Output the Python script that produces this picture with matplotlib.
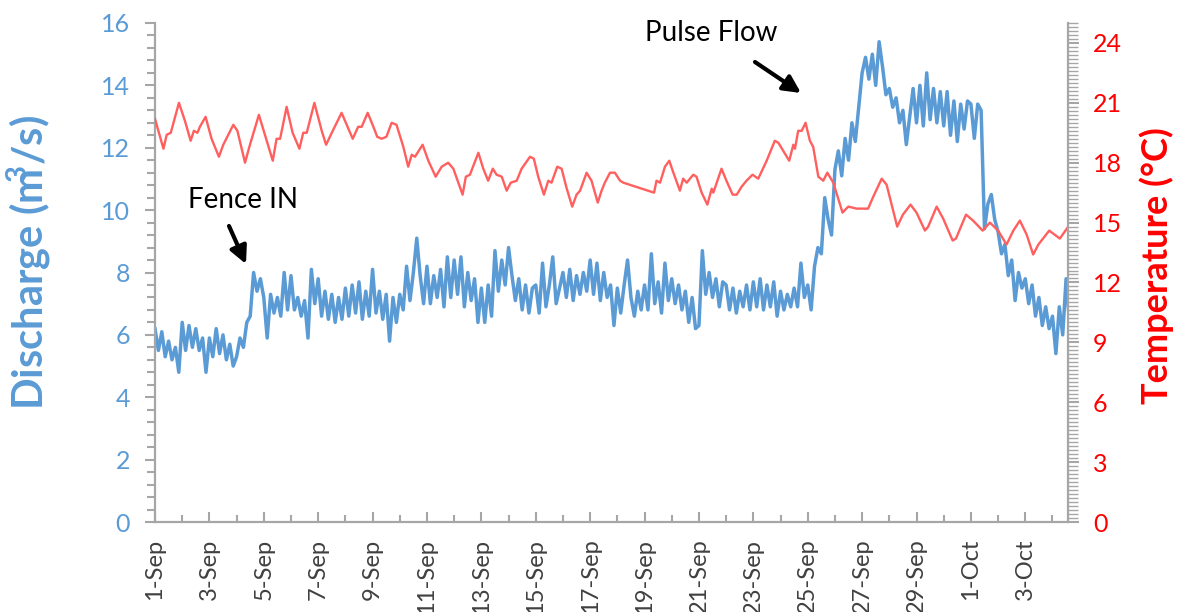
import numpy as np
import pandas as pd
import matplotlib
matplotlib.use("Agg")
import matplotlib.pyplot as plt
from matplotlib.ticker import MultipleLocator
import matplotlib.dates as mdates

plt.rcParams['font.family'] = ['Lato', 'DejaVu Sans']
plt.rcParams['mathtext.fontset'] = 'custom'
plt.rcParams['mathtext.rm'] = 'Lato'
plt.rcParams['mathtext.bf'] = 'Lato:bold'

# ---------------- data ----------------
start = pd.Timestamp("2018-09-01")

# Discharge (m3/s), one row per day, 3-hourly readings from 1-Sep 00:00
discharge = [
    6.2, 5.5, 6.1, 5.3, 5.8, 5.2, 5.6, 4.8,
    6.4, 5.5, 6.3, 5.6, 6.2, 5.5, 5.9, 4.8,
    5.9, 5.3, 6.2, 5.4, 6.0, 5.2, 5.7, 5.0,
    5.3, 5.9, 5.6, 6.4, 6.6, 8.0, 7.4, 7.8,
    7.2, 5.9, 7.3, 6.7, 7.2, 6.6, 8.0, 6.8,
    7.9, 6.8, 7.2, 6.6, 7.1, 5.9, 8.1, 7.0,
    7.8, 6.6, 7.4, 6.5, 7.3, 6.4, 7.2, 6.5,
    7.5, 6.6, 7.6, 6.7, 7.7, 6.5, 7.4, 6.6,
    8.1, 6.7, 7.4, 6.5, 7.3, 5.8, 7.2, 6.4,
    7.3, 6.8, 8.2, 7.1, 8.0, 9.1, 7.9, 7.0,
    8.2, 7.0, 7.9, 7.2, 8.1, 6.9, 8.5, 7.2,
    8.4, 7.3, 8.5, 6.9, 8.0, 7.1, 7.8, 6.4,
    7.5, 6.4, 7.6, 6.6, 8.7, 7.4, 8.4, 7.6,
    8.8, 7.9, 7.1, 7.8, 6.8, 7.6, 6.7, 7.5,
    7.6, 6.7, 8.3, 6.9, 7.6, 8.5, 7.0, 7.5,
    8.0, 7.2, 8.1, 7.1, 7.9, 7.3, 8.0, 7.4,
    8.4, 7.3, 8.3, 7.1, 8.0, 7.2, 7.6, 6.3,
    7.5, 6.7, 7.6, 8.4, 7.2, 6.6, 7.4, 6.8,
    7.6, 6.8, 8.6, 7.0, 7.7, 6.7, 8.3, 7.1,
    7.8, 7.0, 7.6, 6.8, 7.4, 6.4, 7.2, 6.2,
    6.3, 8.7, 7.3, 8.0, 7.2, 7.8, 6.9, 7.7,
    7.6, 6.8, 7.5, 6.7, 7.4, 6.9, 7.6, 6.8,
    7.7, 6.9, 7.8, 6.8, 7.6, 6.9, 7.7, 6.6,
    7.4, 6.8, 7.3, 6.9, 7.5, 6.9, 8.3, 7.2,
    7.6, 6.8, 8.2, 8.8, 8.6, 10.4, 9.7, 9.2,
    11.3, 11.9, 11.1, 12.3, 11.6, 12.8, 12.2, 13.3,
    14.4, 14.9, 14.2, 15.0, 14.0, 15.4, 14.6, 13.7,
    13.9, 13.3, 13.6, 12.8, 13.2, 12.1, 13.0, 13.9,
    12.8, 14.0, 12.7, 14.4, 12.9, 13.9, 12.8, 13.8,
    12.7, 13.8, 12.4, 13.5, 12.2, 13.4, 12.6, 13.5,
    13.4, 12.3, 13.4, 13.2, 9.4, 10.2, 10.5, 9.7,
    9.3, 8.6, 8.9, 7.9, 8.4, 7.1, 8.0, 7.5,
    7.8, 7.0, 7.6, 6.6, 7.2, 6.3, 6.9, 6.2,
    6.6, 5.4, 6.9, 6.0, 7.8, 6.4,
]

# Temperature (deg C): days since 1-Sep 00:00 and value
temp_days = [
    0.00, 0.31, 0.43, 0.58, 0.88, 1.10, 1.31, 1.43, 1.56, 1.65, 1.86, 2.08, 2.35, 2.51,
    2.88, 3.03, 3.31, 3.47, 3.82, 4.04, 4.33, 4.47, 4.60, 4.84, 5.06, 5.31, 5.45, 5.58,
    5.86, 6.13, 6.29, 6.50, 6.86, 7.05, 7.27, 7.47, 7.60, 7.82, 8.03, 8.17, 8.33, 8.51,
    8.70, 8.88, 9.13, 9.31, 9.44, 9.56, 9.84, 10.05, 10.32, 10.54, 10.78, 10.97, 11.31,
    11.43, 11.58, 11.89, 12.07, 12.25, 12.42, 12.56, 12.75, 12.93, 13.08, 13.30, 13.48,
    13.79, 13.93, 14.09, 14.30, 14.46, 14.58, 14.79, 14.95, 15.14, 15.34, 15.50, 15.63,
    15.87, 16.05, 16.28, 16.42, 16.54, 16.73, 16.91, 17.10, 17.22, 18.35, 18.44, 18.57,
    18.75, 18.91, 19.06, 19.30, 19.42, 19.55, 19.79, 19.91, 20.10, 20.31, 20.47, 20.53,
    20.83, 21.01, 21.24, 21.39, 21.57, 21.75, 21.97, 22.18, 22.49, 22.79, 22.92, 23.32,
    23.47, 23.53, 23.65, 23.78, 23.92, 24.08, 24.20, 24.39, 24.57, 24.72, 24.94, 25.12,
    25.28, 25.49, 25.80, 26.22, 26.41, 26.72, 26.90, 27.29, 27.50, 27.78, 28.00, 28.31,
    28.43, 28.74, 28.98, 29.33, 29.45, 29.82, 30.08, 30.43, 30.70, 31.00, 31.31, 31.56,
    31.80, 32.05, 32.29, 32.48, 32.88, 33.27, 33.58,
]
temperature = [
    20.2, 18.7, 19.4, 19.5, 21.0, 20.1, 19.1, 19.6, 19.5, 19.8, 20.3, 19.2, 18.3, 18.9,
    19.9, 19.6, 18.0, 18.8, 20.4, 19.4, 18.1, 19.2, 19.2, 20.8, 19.5, 18.7, 19.5, 19.5,
    21.0, 19.6, 18.9, 19.5, 20.5, 19.9, 19.2, 19.8, 19.8, 20.5, 19.8, 19.3, 19.2, 19.3,
    20.0, 19.9, 18.8, 17.8, 18.4, 18.3, 18.9, 18.1, 17.3, 17.8, 18.0, 17.7, 16.4,
    17.3, 17.4, 18.5, 17.7, 17.1, 17.7, 17.4, 17.3, 16.6, 17.0, 17.1, 17.7,
    18.3, 18.2, 17.3, 16.4, 17.1, 17.0, 17.8, 17.7, 16.7, 15.8, 16.4, 16.6,
    17.5, 17.1, 16.0, 16.6, 17.0, 17.5, 17.5, 17.1, 17.0, 16.5, 17.1, 17.0,
    17.8, 18.1, 17.5, 16.6, 17.2, 17.0, 17.4, 17.3, 16.5, 15.9, 16.7, 16.5,
    17.7, 17.1, 16.4, 16.4, 16.8, 17.1, 17.4, 17.2, 18.1, 19.1, 19.0, 18.1,
    18.9, 18.7, 19.6, 19.6, 20.0, 19.1, 18.8, 17.3, 17.1, 17.5, 17.0, 16.2,
    15.5, 15.8, 15.7, 15.7, 16.3, 17.2, 16.9, 14.8, 15.4, 15.9, 15.5, 14.6,
    14.8, 15.8, 15.2, 14.1, 14.2, 15.4, 15.1, 14.6, 15.0, 14.6, 13.9, 14.6,
    15.1, 14.4, 13.4, 13.9, 14.6, 14.2, 14.8,
]

tick_labels = ['1-Sep', '3-Sep', '5-Sep', '7-Sep', '9-Sep', '11-Sep', '13-Sep', '15-Sep',
               '17-Sep', '19-Sep', '21-Sep', '23-Sep', '25-Sep', '27-Sep', '29-Sep',
               '1-Oct', '3-Oct']

# ---------------- plotting ----------------
W, H = 1178, 612
BLUE = '#5B9BD5'
RED_LINE = '#FF5F5F'
RED = '#FF0000'
GREY = '#A6A6A6'

q_time = start + pd.to_timedelta(np.arange(len(discharge)) * 3, unit='h')
t_time = start + pd.to_timedelta(temp_days, unit='D')

fig = plt.figure(figsize=(W / 100, H / 100), dpi=100)
ax = fig.add_axes([155 / W, 1 - 522 / H, (1068 - 155) / W, (522 - 23) / H])
ax2 = ax.twinx()

ax.plot(q_time, discharge, color=BLUE, lw=2.5, solid_joinstyle='round')
ax2.plot(t_time, temperature, color=RED_LINE, lw=1.7)

x0 = mdates.date2num(start)
ax.set_xlim(x0, x0 + 33.57)
ax.set_ylim(0, 16)
ax2.set_ylim(0, 25)

# x ticks
tick_dates = [pd.to_datetime(lab + '-2018', format='%d-%b-%Y') for lab in tick_labels]
ax.set_xticks(mdates.date2num(tick_dates))
ax.set_xticklabels(tick_labels, rotation=90, fontsize=17, color='#404040')
ax.xaxis.set_minor_locator(mdates.DayLocator())

ax.yaxis.set_major_locator(MultipleLocator(2))
ax.yaxis.set_minor_locator(MultipleLocator(0.4))
ax2.yaxis.set_minor_locator(MultipleLocator(0.2))
ax2.set_yticks(np.arange(0, 25, 3))

for a in (ax, ax2):
    a.spines['top'].set_visible(False)
ax2.spines['left'].set_visible(False)
ax2.spines['bottom'].set_visible(False)
ax.spines['right'].set_visible(False)
for s in ('left', 'bottom'):
    ax.spines[s].set_color(GREY)
    ax.spines[s].set_linewidth(1.6)
ax2.spines['right'].set_color(GREY)
ax2.spines['right'].set_linewidth(1.6)

ax.tick_params(axis='x', which='major', direction='in', length=7, width=1.5, color=GREY, pad=12)
ax.tick_params(axis='x', which='minor', direction='in', length=5, width=1.5, color=GREY)
ax.tick_params(axis='y', which='major', direction='out', length=7, width=1.5, color=GREY,
               labelcolor=BLUE, labelsize=18, pad=11)
ax.tick_params(axis='y', which='minor', direction='out', length=6, width=1.5, color=GREY)
ax2.tick_params(axis='y', which='major', direction='out', length=8, width=1.5, color=GREY,
                labelcolor=RED, labelsize=18, pad=10)
ax2.tick_params(axis='y', which='minor', direction='out', length=7, width=1.0, color=GREY)

fig.text(29 / W, 1 - 262 / H, r'Discharge (m$^{\!\!\!\mathbf{3}}$/s)', rotation=90, ha='center',
         va='center', color=BLUE, fontsize=30, fontweight='bold')
fig.text(1157 / W, 1 - 266 / H, 'Temperature (°C)', rotation=90, ha='center', va='center',
         color=RED, fontsize=26, fontweight='bold')

# annotations
fig.text(243 / W, 1 - 200 / H, 'Fence IN', ha='center', va='center', fontsize=20, color='black')
fig.text(711 / W, 1 - 33 / H, 'Pulse Flow', ha='center', va='center', fontsize=20, color='black')
arrow = dict(arrowstyle='-|>', lw=3, color='black', mutation_scale=26, shrinkA=0, shrinkB=0)
ax.annotate('', xy=(246 / W, 1 - 264 / H), xytext=(229 / W, 1 - 226 / H),
            xycoords='figure fraction', textcoords='figure fraction', arrowprops=arrow)
ax.annotate('', xy=(801 / W, 1 - 93 / H), xytext=(755 / W, 1 - 62 / H),
            xycoords='figure fraction', textcoords='figure fraction', arrowprops=arrow)

fig.savefig('out.png', dpi=100)
